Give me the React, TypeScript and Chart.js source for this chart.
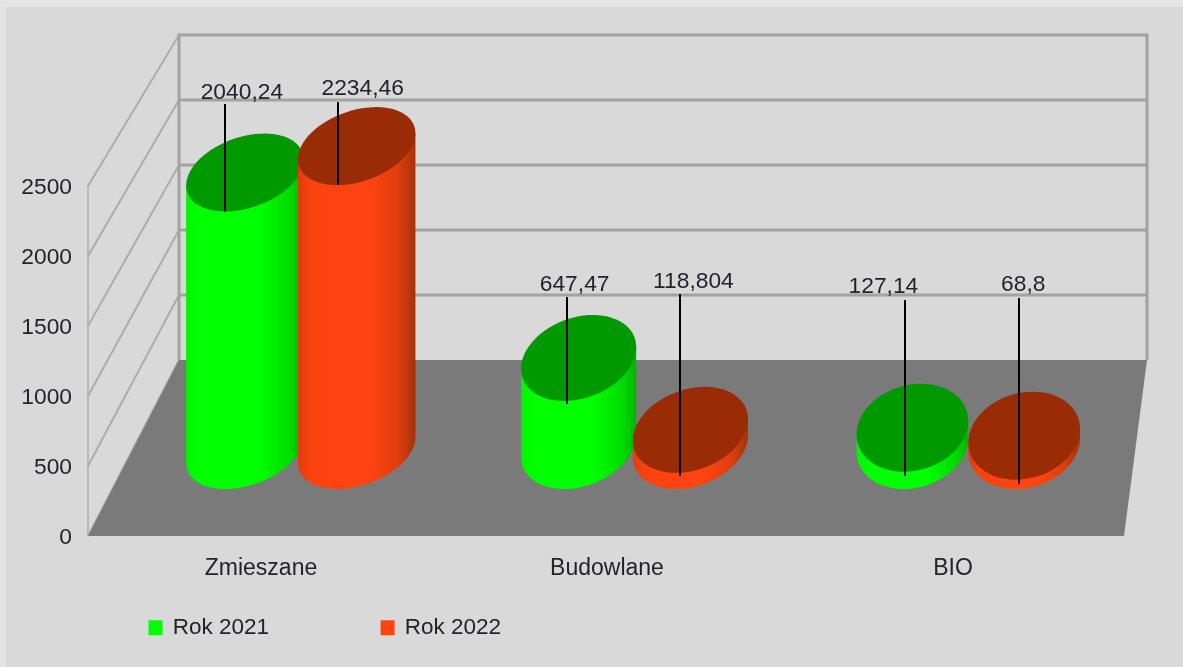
import React, { useEffect, useRef } from "react";
import { Chart, registerables } from "chart.js";

Chart.register(...registerables);

// ---- data ----
const categories = ["Zmieszane", "Budowlane", "BIO"];
const rok2021 = [2040.24, 647.47, 127.14];
const rok2022 = [2234.46, 118.804, 68.8];
const yTicks = [0, 500, 1000, 1500, 2000, 2500];

// ---- style ----
const FONT = "'Liberation Sans', Arial, sans-serif";
const TEXT = "#23232b";
const GRID = "#a2a2a2";
const SIDE = "#adadad";
const FLOOR = "#7a7a7a";
const seriesStyle = [
  { base: "#00ff00", top: "#009900", stops: [[0, "#00f500"], [0.12, "#00ff00"], [0.62, "#00ff00"], [0.88, "#00dc00"], [1, "#00b400"]] },
  { base: "#ff4411", top: "#992b07", stops: [[0, "#e03c0e"], [0.12, "#fb430f"], [0.6, "#ff4411"], [0.85, "#e03e0f"], [1, "#a53208"]] },
];
// perspective of the cylinders per category
const ellipseWidthFactor = [1.02, 1, 0.97];
const ellipseHalfHeight = [39, 43, 44];
const ellipseSkew = [-760, -620, -380];
// leader lines and value labels per [series][category]
const leaderDx = [[-20, -12, -7], [-19, -10.5, -5]];
const leaderExtra = [[0, 3, 4], [0, 3, 4]];
const leaderTop = [[104, 297, 300], [102, 294, 298]];
const labelDx = [[-3, -4, -29], [6, 3, -1]];
const labelBaseline = [[99, 291, 293], [95, 288, 291]];

const ellipsePoints = (cx: number, cy: number, wx: number, wy: number, c: number, from: number, to: number) => {
  const k = c / wx;
  const s = Math.sqrt(Math.max(wy * wy - k * k, 1));
  const pts: [number, number][] = [];
  const n = 72;
  for (let i = 0; i <= n; i++) {
    const t = from + ((to - from) * i) / n;
    pts.push([cx + wx * Math.cos(t), cy + k * Math.cos(t) + s * Math.sin(t)]);
  }
  return pts;
};

const tracePts = (ctx: CanvasRenderingContext2D, pts: [number, number][], start = true) => {
  pts.forEach(([x, y], i) => (i === 0 && start ? ctx.moveTo(x, y) : ctx.lineTo(x, y)));
};

const drawCylinders = (chart: any, index: number) => {
  const { ctx } = chart;
  const style = seriesStyle[index];
  chart.getDatasetMeta(index).data.forEach((bar: any, j: number) => {
    const wx = (bar.width / 2) * ellipseWidthFactor[j];
    const wy = ellipseHalfHeight[j];
    const c = ellipseSkew[j];
    const topY = bar.y - wy;
    const baseY = bar.base - wy;
    const g = ctx.createLinearGradient(bar.x - wx, 0, bar.x + wx, 0);
    style.stops.forEach(([o, col]: any) => g.addColorStop(o, col));
    ctx.save();
    ctx.fillStyle = g;
    ctx.beginPath();
    const rightTop = ellipsePoints(bar.x, topY, wx, wy, c, 0, 0)[0];
    ctx.moveTo(rightTop[0], rightTop[1]);
    tracePts(ctx, ellipsePoints(bar.x, baseY, wx, wy, c, 0, Math.PI), false);
    const leftTop = ellipsePoints(bar.x, topY, wx, wy, c, Math.PI, Math.PI)[0];
    ctx.lineTo(leftTop[0], leftTop[1]);
    ctx.closePath();
    ctx.fill();
    ctx.fillStyle = style.top;
    ctx.beginPath();
    tracePts(ctx, ellipsePoints(bar.x, topY, wx, wy, c, 0, Math.PI * 2));
    ctx.closePath();
    ctx.fill();
    ctx.restore();
  });
};

const room = {
  id: "room",
  beforeDraw(chart: any) {
    const { ctx, width, height } = chart;
    ctx.save();
    ctx.fillStyle = "#e4e4e4";
    ctx.fillRect(0, 0, width, height);
    ctx.fillStyle = "#d9d9d9";
    ctx.fillRect(6, 7, width - 6, height - 7);
    ctx.restore();
  },
  afterLayout(chart: any) {
    const l = chart.legend;
    const pad = l.options.labels.padding;
    l.left = 149.5 - pad;
    l.right = chart.width;
    l.top = 628 - 11.5 - pad;
    l.bottom = chart.height;
  },
  beforeDatasetsDraw(chart: any) {
    const { ctx, chartArea, scales } = chart;
    const y = scales.y;
    const back = scales.yBack;
    const fl = chartArea.left;
    const bl = fl + 91;
    const br = chartArea.right + 21;
    const fr = chartArea.right - 2;
    ctx.save();
    // side wall
    ctx.strokeStyle = SIDE;
    ctx.lineWidth = 2;
    yTicks.forEach((v) => {
      ctx.beginPath();
      ctx.moveTo(fl, y.getPixelForValue(v));
      ctx.lineTo(bl, back.getPixelForValue(v));
      ctx.stroke();
    });
    ctx.beginPath();
    ctx.lineWidth = 1.5;
    ctx.moveTo(fl, y.getPixelForValue(0));
    ctx.lineTo(fl, y.getPixelForValue(2500));
    ctx.stroke();
    // floor
    ctx.fillStyle = FLOOR;
    ctx.beginPath();
    ctx.moveTo(fl, y.getPixelForValue(0));
    ctx.lineTo(bl, back.getPixelForValue(0));
    ctx.lineTo(br, back.getPixelForValue(0));
    ctx.lineTo(fr, y.getPixelForValue(0));
    ctx.closePath();
    ctx.fill();
    // back wall
    ctx.strokeStyle = GRID;
    ctx.lineWidth = 3;
    yTicks.forEach((v) => {
      if (v === 0) return;
      ctx.beginPath();
      ctx.moveTo(bl, back.getPixelForValue(v));
      ctx.lineTo(br, back.getPixelForValue(v));
      ctx.stroke();
    });
    [bl, br].forEach((x) => {
      ctx.beginPath();
      ctx.moveTo(x, back.getPixelForValue(2500) - 1.5);
      ctx.lineTo(x, back.getPixelForValue(0));
      ctx.stroke();
    });
    ctx.restore();
    // every bar element becomes a cylinder from its own x / y / base / width;
    // later series sit in front of earlier ones
    chart.data.datasets.forEach((_: any, i: number) => drawCylinders(chart, i));
  },
  beforeDatasetDraw() {
    return false;
  },
  afterDatasetsDraw(chart: any) {
    const { ctx } = chart;
    ctx.save();
    chart.data.datasets.forEach((ds: any, i: number) => {
      chart.getDatasetMeta(i).data.forEach((bar: any, j: number) => {
        const lx = Math.round(bar.x + leaderDx[i][j]);
        ctx.strokeStyle = "#000";
        ctx.lineWidth = 2;
        ctx.beginPath();
        ctx.moveTo(lx, leaderTop[i][j]);
        ctx.lineTo(lx, bar.y + leaderExtra[i][j]);
        ctx.stroke();
        ctx.fillStyle = TEXT;
        ctx.font = `22.8px ${FONT}`;
        ctx.textAlign = "center";
        ctx.textBaseline = "alphabetic";
        ctx.fillText(String(ds.data[j].y).replace(".", ","), bar.x + labelDx[i][j], labelBaseline[i][j]);
      });
    });
    ctx.restore();
  },
};

export default function App() {
  const ref = useRef<HTMLCanvasElement>(null);
  useEffect(() => {
    const toPoints = (vals: number[]) => vals.map((y, x) => ({ x, y }));
    const chart = new Chart(ref.current as HTMLCanvasElement, {
      type: "bar",
      data: {
        labels: categories,
        datasets: [
          {
            label: "Rok 2021",
            data: toPoints(rok2021) as any,
            backgroundColor: seriesStyle[0].base,
            borderColor: seriesStyle[0].base,
            borderWidth: 2,
            xAxisID: "xBars",
            yAxisID: "yBars",
            categoryPercentage: 0.67,
            barPercentage: 1.03,
          },
          {
            label: "Rok 2022",
            data: toPoints(rok2022) as any,
            backgroundColor: seriesStyle[1].base,
            borderColor: seriesStyle[1].base,
            borderWidth: 2,
            xAxisID: "xBars",
            yAxisID: "yBars",
            categoryPercentage: 0.67,
            barPercentage: 1.03,
          },
        ],
      },
      options: {
        responsive: false,
        animation: false,
        devicePixelRatio: 1,
        layout: { padding: { top: 186, right: 57, left: 0, bottom: 0 } },
        plugins: {
          tooltip: { enabled: false },
          legend: {
            position: "bottom",
            align: "start",
            maxHeight: 1,
            labels: {
              boxWidth: 12,
              boxHeight: 13,
              padding: 112.5,
              color: TEXT,
              font: { family: FONT, size: 22.5 },
            },
          },
        },
        scales: {
          x: {
            type: "category",
            labels: categories,
            offset: true,
            grid: { display: false },
            border: { display: false },
            ticks: { color: TEXT, font: { family: FONT, size: 23 }, padding: 11, maxRotation: 0, autoSkip: false },
            afterFit: (s: any) => { s.height = 130; },
          },
          y: {
            type: "linear",
            min: 0,
            max: 2500,
            grid: { display: false },
            border: { display: false },
            afterBuildTicks: (s: any) => { s.ticks = yTicks.map((value) => ({ value })); },
            ticks: {
              color: TEXT,
              font: { family: FONT, size: 22.8 },
              padding: 8,
              labelOffset: 1.5,
              callback: (v: any) => String(v),
            },
            afterFit: (s: any) => { s.width = 88; },
          },
          // depth plane of the back wall
          yBack: { type: "linear", axis: "y", display: false, min: -1353.8, max: 1338.5 },
          // depth plane in which the cylinders stand
          xBars: {
            type: "linear",
            axis: "x",
            display: false,
            offset: false,
            min: -0.6375,
            max: 2.4725,
            afterBuildTicks: (s: any) => { s.ticks = categories.map((_, value) => ({ value })); },
          },
          yBars: { type: "linear", axis: "y", display: false, min: -345.6, max: 2228 },
        },
      } as any,
      plugins: [room as any],
    });
    return () => chart.destroy();
  }, []);
  return (
    <canvas
      ref={ref}
      width={1183}
      height={667}
      style={{ position: "fixed", left: 0, top: 0, width: 1183, height: 667, filter: "blur(0.5px)" }}
    />
  );
}
